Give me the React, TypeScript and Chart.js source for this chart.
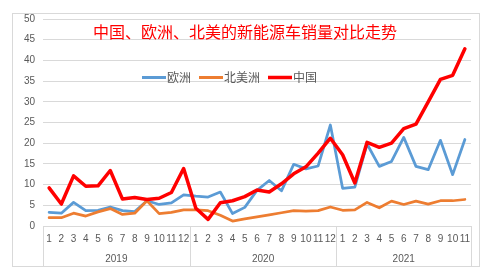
import { useEffect, useRef } from 'react';
import { Chart, registerables } from 'chart.js';

Chart.register(...registerables);

// Month tick labels (2019-01 .. 2021-11)
const monthLabels = [
  '1', '2', '3', '4', '5', '6', '7', '8', '9', '10', '11', '12',
  '1', '2', '3', '4', '5', '6', '7', '8', '9', '10', '11', '12',
  '1', '2', '3', '4', '5', '6', '7', '8', '9', '10', '11',
];

// Year groups shown under the month labels
const yearLabels = ['2019', '2020', '2021'];
const yearSpans = [12, 12, 11];

// Monthly NEV sales (10k units)
const europe = [
  3.3, 3.1, 5.7, 3.7, 3.8, 4.6, 3.7, 3.5, 6.1, 5.2, 5.6, 7.5,
  7.2, 7.0, 8.2, 3.0, 4.5, 8.6, 11.0, 8.5, 14.9, 13.8, 14.5, 24.4,
  9.1, 9.4, 19.8, 14.4, 15.6, 21.4, 14.4, 13.6, 20.7, 12.4, 20.9,
];
const northAmerica = [
  2.0, 2.0, 3.1, 2.4, 3.4, 4.2, 2.8, 3.1, 6.1, 3.0, 3.3, 3.9,
  3.9, 3.7, 2.6, 1.2, 1.7, 2.2, 2.7, 3.2, 3.7, 3.6, 3.7, 4.6,
  3.8, 3.9, 5.7, 4.4, 6.0, 5.2, 6.0, 5.3, 6.1, 6.1, 6.4,
];
const china = [
  9.2, 5.3, 12.1, 9.6, 9.7, 13.4, 6.5, 6.9, 6.4, 6.7, 8.1, 13.9,
  4.3, 1.6, 5.6, 6.1, 7.1, 8.7, 8.2, 10.2, 12.6, 14.3, 17.6, 21.2,
  17.2, 10.4, 20.2, 19.0, 20.0, 23.5, 24.6, 30.0, 35.4, 36.4, 42.8,
];

const seriesNames = ['欧洲', '北美洲', '中国'];
const seriesColors = ['#5b9bd5', '#ed7d31', '#ff0000'];
const titleText = '中国、欧洲、北美的新能源车销量对比走势';

const W = 493;
const H = 278;
const CJK = '"Noto Sans CJK SC", "Noto Sans", sans-serif';
const NUM = '"Liberation Sans", Arial, sans-serif';
const GRID = '#d9d9d9';
const TEXT = '#595959';

// Frame, grouped year axis, title and in-plot legend
const decorPlugin = {
  id: 'decor',
  beforeDraw(chart: any) {
    const ctx = chart.ctx;
    ctx.save();
    ctx.fillStyle = '#ffffff';
    ctx.fillRect(0, 0, W, H);
    ctx.strokeStyle = GRID;
    ctx.lineWidth = 1;
    ctx.strokeRect(12.5, 13.5, 467, 253);
    ctx.restore();
  },
  afterDraw(chart: any) {
    const ctx = chart.ctx;
    const xs = chart.scales.x;
    const area = chart.chartArea;
    const bottom = 266.5;

    // group boundaries
    const bounds: number[] = [area.left];
    let idx = 0;
    yearSpans.forEach((span, i) => {
      idx += span;
      if (i < yearSpans.length - 1) {
        bounds.push((xs.getPixelForValue(idx - 1) + xs.getPixelForValue(idx)) / 2);
      }
    });
    bounds.push(area.right);

    ctx.save();
    ctx.strokeStyle = GRID;
    ctx.lineWidth = 1;
    bounds.forEach((bx) => {
      const px = Math.round(bx) + 0.5;
      ctx.beginPath();
      ctx.moveTo(px, area.bottom);
      ctx.lineTo(px, bottom);
      ctx.stroke();
    });

    ctx.fillStyle = TEXT;
    ctx.font = `10px ${NUM}`;
    ctx.textAlign = 'center';
    ctx.textBaseline = 'middle';
    yearLabels.forEach((label, i) => {
      ctx.fillText(label, (bounds[i] + bounds[i + 1]) / 2, 259);
    });

    // title
    ctx.fillStyle = '#ff0000';
    ctx.font = `16px ${CJK}`;
    ctx.textAlign = 'center';
    ctx.fillText(titleText, 245, 32);

    // legend
    ctx.font = `12px ${CJK}`;
    ctx.textAlign = 'left';
    let lx = 142;
    const ly = 77.5;
    seriesNames.forEach((name, i) => {
      ctx.strokeStyle = seriesColors[i];
      ctx.lineWidth = i === 2 ? 3.5 : 3;
      ctx.beginPath();
      ctx.moveTo(lx, ly);
      ctx.lineTo(lx + 24, ly);
      ctx.stroke();
      ctx.fillStyle = TEXT;
      ctx.fillText(name, lx + 25, ly);
      lx += 25 + ctx.measureText(name).width + 8;
    });
    ctx.restore();
  },
};

export default function App() {
  const ref = useRef<HTMLCanvasElement | null>(null);

  useEffect(() => {
    if (!ref.current) return;
    const series = [europe, northAmerica, china];
    const chart = new Chart(ref.current, {
      type: 'line',
      data: {
        labels: monthLabels,
        datasets: series.map((data, i) => ({
          label: seriesNames[i],
          data,
          borderColor: seriesColors[i],
          backgroundColor: seriesColors[i],
          borderWidth: i === 2 ? 3.5 : 2.75,
          pointRadius: 0,
          tension: 0,
          borderJoinStyle: 'round' as const,
          borderCapStyle: 'round' as const,
          order: 3 - i,
        })),
      },
      options: {
        responsive: false,
        animation: false,
        devicePixelRatio: 1,
        layout: { padding: { top: 19, right: 22, bottom: 0, left: 0 } },
        plugins: {
          legend: { display: false },
          title: { display: false },
          tooltip: { enabled: false },
        },
        scales: {
          x: {
            type: 'category',
            offset: true,
            grid: { display: false, drawTicks: false },
            border: { display: false },
            ticks: {
              autoSkip: false,
              maxRotation: 0,
              minRotation: 0,
              padding: 7,
              color: TEXT,
              font: { family: NUM, size: 10 },
            },
            afterFit(s: any) {
              s.height = 52;
            },
          },
          y: {
            min: 0,
            max: 50,
            ticks: {
              stepSize: 5,
              padding: 8,
              color: TEXT,
              font: { family: NUM, size: 10 },
            },
            grid: { color: GRID, lineWidth: 1, drawTicks: false },
            border: { display: false },
            afterFit(s: any) {
              s.width = 43;
            },
          },
        },
      },
      plugins: [decorPlugin],
    });
    return () => chart.destroy();
  }, []);

  return (
    <div style={{ position: 'fixed', left: 0, top: 0, width: W, height: H, background: '#fff' }}>
      <canvas ref={ref} width={W} height={H} style={{ display: 'block' }} />
    </div>
  );
}
